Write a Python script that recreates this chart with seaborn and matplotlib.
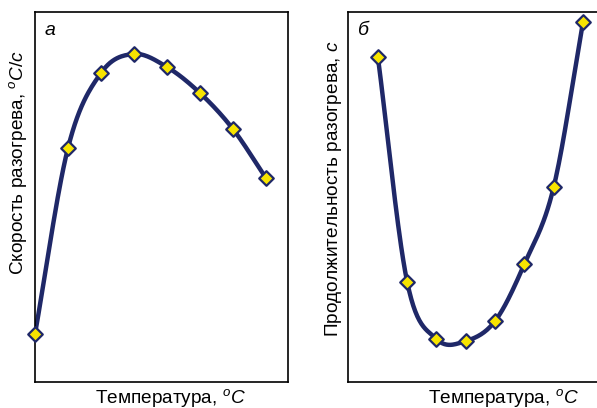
import numpy as np
import pandas as pd
import matplotlib
matplotlib.use("Agg")
import matplotlib.pyplot as plt
import seaborn as sns

# Data (no tick values are shown, so relative units)
x_a = [0, 1, 2, 3, 4, 5, 6, 7]
rate_a = [48, 234, 309, 328, 315, 289, 253, 204]

x_b = [0, 1, 2, 3, 4, 5, 6, 7]
dur_b = [325, 100, 43, 41, 61, 118, 195, 360]

navy = "#1f2868"
yellow = "#f7e400"

sns.set_style("white")
plt.rcParams["font.family"] = ["Liberation Sans", "DejaVu Sans"]
plt.rcParams["mathtext.fontset"] = "custom"
plt.rcParams["mathtext.rm"] = "Liberation Sans"
plt.rcParams["mathtext.it"] = "Liberation Sans:italic"
plt.rcParams["text.color"] = "black"
plt.rcParams["axes.labelcolor"] = "black"


def smooth(x, y, n=30):
    # Catmull-Rom curve through the points, just for drawing the line
    x = np.asarray(x, float)
    y = np.asarray(y, float)
    px = np.concatenate([[2 * x[0] - x[1]], x, [2 * x[-1] - x[-2]]])
    py = np.concatenate([[2 * y[0] - y[1]], y, [2 * y[-1] - y[-2]]])
    xs, ys = [], []
    t = np.linspace(0, 1, n)
    for i in range(1, len(px) - 2):
        for p, out in ((px, xs), (py, ys)):
            p0, p1, p2, p3 = p[i - 1], p[i], p[i + 1], p[i + 2]
            out.extend(0.5 * (2 * p1 + (-p0 + p2) * t
                              + (2 * p0 - 5 * p1 + 4 * p2 - p3) * t ** 2
                              + (-p0 + 3 * p1 - 3 * p2 + p3) * t ** 3))
    return np.array(xs), np.array(ys)


fig = plt.figure(figsize=(5.97, 4.08), dpi=100)
W, H = 597, 408
ax1 = fig.add_axes([35 / W, 1 - 382 / H, (288 - 35) / W, 370 / H])
ax2 = fig.add_axes([348 / W, 1 - 382 / H, (600 - 348) / W, 370 / H])

# ax, x, y, xlim, ylabel, letter, xlabel centre x, ylabel centre (x, y) in px
panels = [
    (ax1, x_a, rate_a, (0, 7.67), "Скорость разогрева, $^{o}\\mathit{C/c}$", "а", 171, (18, 162)),
    (ax2, x_b, dur_b, (-1.02, 7.58), "Продолжительность разогрева, $\\mathit{c}$", "б", 504, (333, 189)),
]

for ax, xs, ys, xlim, ylabel, letter, xl, (ylx, yly) in panels:
    sx, sy = smooth(xs, ys)
    ax.plot(sx, sy, color=navy, lw=3.2, solid_capstyle="round", zorder=2)
    df = pd.DataFrame({"x": xs, "y": ys})
    sns.scatterplot(data=df, x="x", y="y", ax=ax, marker="D", s=55,
                    color=yellow, edgecolor=navy, linewidth=1.6, zorder=3,
                    clip_on=False)
    ax.set_xlim(*xlim)
    ax.set_ylim(0, 370)
    ax.set_xticks([])
    ax.set_yticks([])
    for sp in ax.spines.values():
        sp.set_color("black")
        sp.set_linewidth(1.2)
    ax.set_xlabel("Температура, $^{o}\\mathit{C}$", fontsize=13.7)
    ax.set_ylabel(ylabel, fontsize=13.7)
    bb = ax.get_position()
    ax.xaxis.set_label_coords((xl / W - bb.x0) / bb.width,
                              (1 - 398 / H - bb.y0) / bb.height)
    ax.xaxis.label.set_va("center")
    ax.yaxis.set_label_coords((ylx / W - bb.x0) / bb.width,
                              (1 - yly / H - bb.y0) / bb.height)
    ax.yaxis.label.set_va("center")
    ax.text((10 / W) / bb.width, 0.95, letter, transform=ax.transAxes,
            fontsize=14, style="italic", ha="left", va="center")

fig.savefig("out.png", dpi=100)
